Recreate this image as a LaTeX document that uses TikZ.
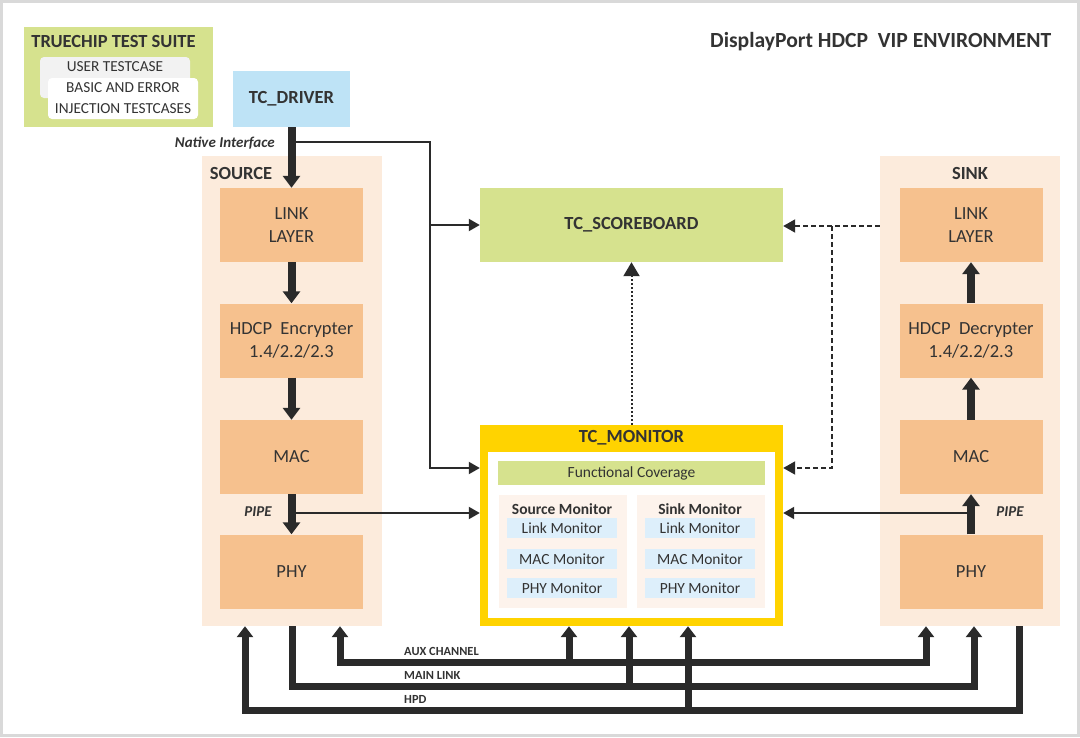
\documentclass[tikz,border=0pt]{standalone}
\usepackage{fontspec}
\setmainfont{Carlito}
\usetikzlibrary{arrows.meta,positioning,calc}
\definecolor{panelc}{HTML}{FCEBDC}
\definecolor{blkc}{HTML}{F6C18E}
\definecolor{grnc}{HTML}{D6E28E}
\definecolor{bluec}{HTML}{BEE3F6}
\definecolor{yelc}{HTML}{FFD300}
\definecolor{monc}{HTML}{DDEFFB}
\definecolor{mpanc}{HTML}{FDF3EC}
\definecolor{inkc}{HTML}{2A2A2A}
\definecolor{txtc}{HTML}{333333}

\begin{document}
\begin{tikzpicture}[x=1pt, y=-1pt,
    every node/.style={text=txtc, inner sep=0pt},
    panel/.style={fill=panelc, minimum width=180pt, minimum height=470pt},
    blk/.style={fill=blkc, minimum width=143pt, minimum height=74pt, align=center, font=\fontsize{18.5}{23}\selectfont},
    ttl/.style={font=\fontsize{18.5}{22}\selectfont\bfseries},
    mon/.style={fill=monc, minimum width=110pt, minimum height=20pt, font=\fontsize{15.5}{18}\selectfont},
    mpan/.style={fill=mpanc, minimum width=128pt, minimum height=113pt},
    tcase/.style={rounded corners=4pt, minimum width=150pt, minimum height=41pt, align=center, font=\fontsize{15.3}{21}\selectfont},
    lab/.style={font=\fontsize{15}{18}\selectfont\bfseries\itshape},
    buslab/.style={font=\fontsize{12.4}{14}\selectfont\bfseries, anchor=west},
    thk/.style={draw=inkc, line width=8pt, -{Triangle[length=12pt,width=17pt]}},
    bus/.style={draw=inkc, line width=7pt},
    thn/.style={draw=inkc, line width=2pt, -{Triangle[length=11pt,width=12pt]}},
    dotl/.style={draw=inkc, line width=2pt, dotted, -{Triangle[length=14pt,width=16pt]}},
    dshl/.style={draw=inkc, line width=2pt, dash pattern=on 5pt off 3pt, -{Triangle[length=12pt,width=13pt]}}]
  \useasboundingbox (0,0) rectangle (1080,737);
  \draw[black!15, line width=3pt] (1.5,1.5) rectangle (1078.5,735.5);

  % test suite and driver
  \node[fill=grnc, minimum width=189pt, minimum height=100pt] (suite) at (118.5,77) {};
  \node[ttl] (suitet) at (113.5,41) {TRUECHIP TEST SUITE};
  \node[tcase, fill=black!5] (utc) at (115,77.5) {};
  \node[font=\fontsize{15.3}{18}\selectfont] at (115,67) {USER TESTCASE};
  \node[tcase, fill=white] (btc) at (123,98.5) {BASIC AND ERROR\\INJECTION TESTCASES};
  \node[fill=bluec, minimum width=117pt, minimum height=56pt, ttl] (drv) at (291.5,99) {TC\_DRIVER};
  \node[anchor=west, font=\fontsize{21.6}{25}\selectfont\bfseries] (title) at (710,42) {DisplayPort HDCP\ \ VIP ENVIRONMENT};

  % source side
  \node[panel] (src) at (292,391) {};
  \node[ttl] at (241,173) {SOURCE};
  \node[blk] (slink) at (291.5,225) {LINK\\LAYER};
  \node[blk] (shdcp) at (291.5,340.5) {HDCP\ \ Encrypter\\1.4/2.2/2.3};
  \node[blk] (smac) at (291.5,457) {MAC};
  \node[blk] (sphy) at (291.5,571.5) {PHY};

  % sink side
  \node[panel] (snk) at (970,391) {};
  \node[ttl] at (970,173) {SINK};
  \node[blk] (klink) at (971,225) {LINK\\LAYER};
  \node[blk] (khdcp) at (971,340.5) {HDCP\ \ Decrypter\\1.4/2.2/2.3};
  \node[blk] (kmac) at (971,457) {MAC};
  \node[blk] (kphy) at (971,571.5) {PHY};

  % scoreboard and monitor
  \node[fill=grnc, minimum width=303pt, minimum height=74pt, ttl] (sb) at (631.5,225) {TC\_SCOREBOARD};
  \node[fill=yelc, minimum width=303pt, minimum height=201pt] (mon) at (631.5,525.5) {};
  \node[fill=white, minimum width=287pt, minimum height=166pt] (moni) at (631.5,535) {};
  \node[ttl] at (631.5,438) {TC\_MONITOR};
  \node[fill=grnc, minimum width=267pt, minimum height=24pt, font=\fontsize{15.5}{18}\selectfont] (cov) at (631.5,473) {Functional Coverage};
  \node[mpan] (smon) at (563,551.5) {};
  \node[mpan] (kmon) at (700.5,551.5) {};
  \node[font=\fontsize{15.5}{18}\selectfont\bfseries] at (562,509) {Source Monitor};
  \node[font=\fontsize{15.5}{18}\selectfont\bfseries] at (700,509) {Sink Monitor};
  \node[mon] (slm) at (562,528) {Link Monitor};
  \node[mon] (smm) at (562,559) {MAC Monitor};
  \node[mon] (spm) at (562,588) {PHY Monitor};
  \node[mon] (klm) at (700,528) {Link Monitor};
  \node[mon] (kmm) at (700,559) {MAC Monitor};
  \node[mon] (kpm) at (700,588) {PHY Monitor};

  % data path
  \draw[thk] (drv.south) -- (slink.north);
  \draw[thk] (slink) -- (shdcp);
  \draw[thk] (shdcp) -- (smac);
  \draw[thk] (smac) -- (sphy);
  \draw[thk] (kphy) -- (kmac);
  \draw[thk] (kmac) -- (khdcp);
  \draw[thk] (khdcp) -- (klink);
  \node[lab, anchor=east] at (275,143) {Native Interface};
  \node[lab] at (258,512) {PIPE};
  \node[lab] at (1010,512) {PIPE};

  \coordinate (nif) at (430,142);
  \coordinate (spipe) at (292,513);
  \coordinate (kpipe) at (970,513);
  \coordinate (mtap) at (0,468);
  \coordinate (dsk) at (832,226);
  \draw[thn] (drv.south |- nif) -- (nif) |- (mon.west |- mtap);
  \draw[thn] (nif |- sb.west) -- (sb.west);
  \draw[thn] (spipe) -- (mon.west |- spipe);
  \draw[thn] (kpipe) -- (mon.east |- kpipe);
  \draw[dotl] (mon.north) -- (sb.south);
  \draw[dshl] (snk.west |- dsk) -- (sb.east |- dsk);
  \draw[dshl] (dsk) |- (mon.east |- mtap);

  % buses
  \coordinate (aux1) at (340,662);
  \coordinate (aux2) at (926,662);
  \coordinate (auxm) at (569,662);
  \coordinate (main1) at (292,686);
  \coordinate (main2) at (974,686);
  \coordinate (mainm) at (629,686);
  \coordinate (hpd1) at (1019,710);
  \coordinate (hpd2) at (245,710);
  \coordinate (hpdm) at (688,710);
  \draw[bus, {Triangle[length=11pt,width=16pt]}-{Triangle[length=11pt,width=16pt]}] (src.south -| aux1) -- (aux1) -- (aux2) -- (snk.south -| aux2);
  \draw[bus, -{Triangle[length=11pt,width=16pt]}] (src.south -| main1) -- (main1) -- (main2) -- (snk.south -| main2);
  \draw[bus, -{Triangle[length=11pt,width=16pt]}] (snk.south -| hpd1) -- (hpd1) -- (hpd2) -- (src.south -| hpd2);
  \draw[bus, -{Triangle[length=11pt,width=16pt]}] (auxm) -- (mon.south -| auxm);
  \draw[bus, -{Triangle[length=11pt,width=16pt]}] (mainm) -- (mon.south -| mainm);
  \draw[bus, -{Triangle[length=11pt,width=16pt]}] (hpdm) -- (mon.south -| hpdm);
  \node[buslab] at (404,651) {AUX CHANNEL};
  \node[buslab] at (404,675) {MAIN LINK};
  \node[buslab] at (404,699) {HPD};
\end{tikzpicture}
\end{document}
